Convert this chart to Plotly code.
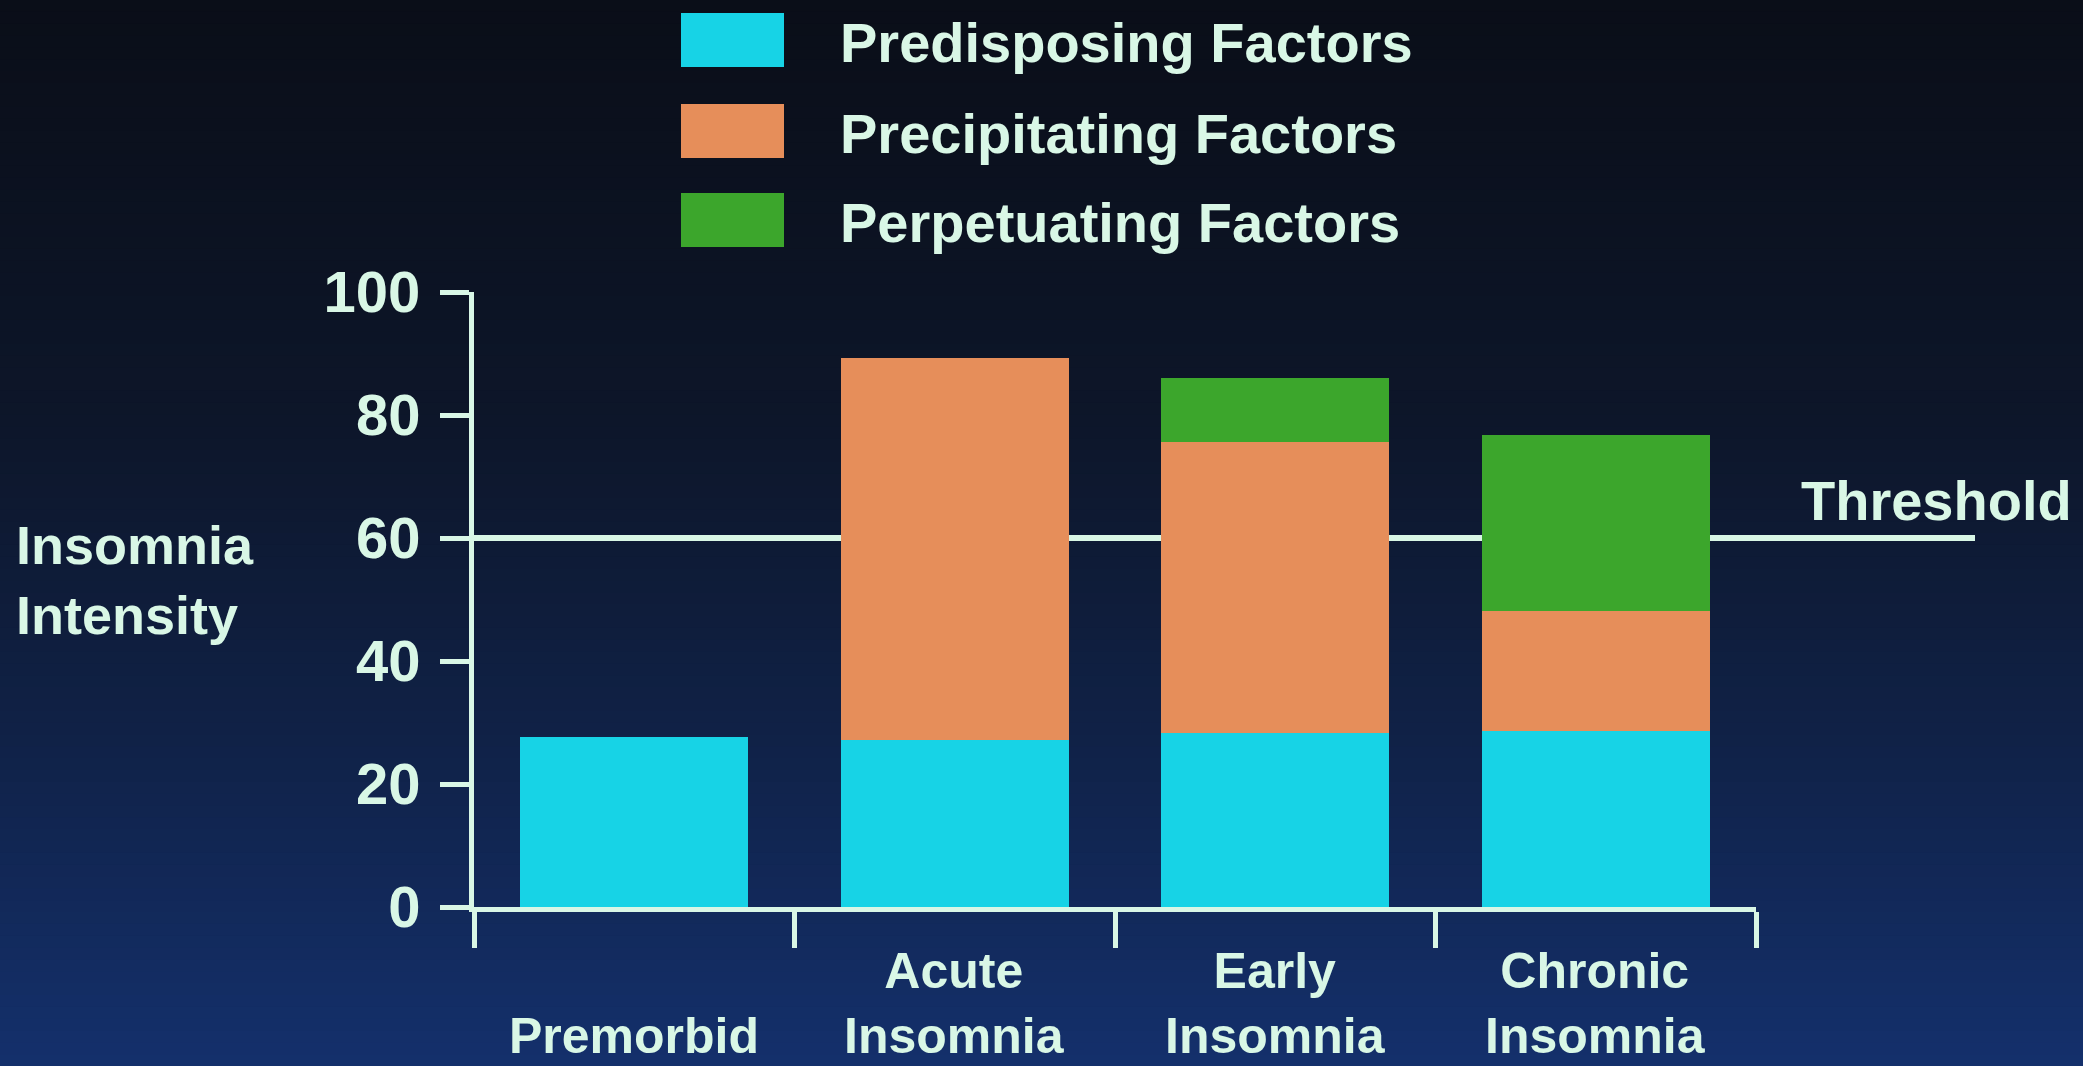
import plotly.graph_objects as go

# ---------------- data ----------------
categories = ["Premorbid", "Acute Insomnia", "Early Insomnia", "Chronic Insomnia"]
predisposing = [27.6, 27.2, 28.3, 28.7]
precipitating = [0.0, 62.0, 47.3, 19.5]
perpetuating = [0.0, 0.0, 10.4, 28.5]
series_names = ["Predisposing Factors", "Precipitating Factors", "Perpetuating Factors"]
threshold = 60
threshold_label = "Threshold"
y_ticks = [0, 20, 40, 60, 80, 100]
y_title_lines = ["Insomnia", "Intensity"]

# ---------------- style ----------------
series_colors = ["#17d3e6", "#e68e5a", "#3ca62c"]
TXT = "#d9f7e6"
FONT = "Liberation Sans"
W, H = 2083, 1066
L, R, T, B = 474, 327, 292, 159
PW, PH = W - L - R, H - T - B


def px(x):
    return (x - L) / PW


def py(y):
    return (H - B - y) / PH


fig = go.Figure()
for name, vals, col in zip(series_names, [predisposing, precipitating, perpetuating], series_colors):
    fig.add_trace(go.Bar(x=categories, y=vals, name=name, marker=dict(color=col, line=dict(width=0)),
                         width=0.71, showlegend=False))

shapes = []
# background gradient
stops = [(0.0, (10, 14, 24)), (0.4, (13, 22, 42)), (0.7, (16, 34, 72)), (1.0, (20, 48, 108))]


def grad(t):
    for (t0, c0), (t1, c1) in zip(stops[:-1], stops[1:]):
        if t0 <= t <= t1:
            f = (t - t0) / (t1 - t0)
            return "rgb(%d,%d,%d)" % tuple(round(a + (b - a) * f) for a, b in zip(c0, c1))
    return "rgb(%d,%d,%d)" % stops[-1][1]


N = 90
for i in range(N):
    y0 = H * i / N
    y1 = H * (i + 1) / N + 1
    shapes.append(dict(type="rect", xref="paper", yref="paper", x0=px(0), x1=px(W),
                       y0=py(y1), y1=py(y0), fillcolor=grad((i + 0.5) / N),
                       line=dict(width=0), layer="below"))

# threshold line
shapes.append(dict(type="line", xref="paper", yref="y", x0=0, x1=px(1975), y0=threshold, y1=threshold,
                   line=dict(color=TXT, width=6), layer="below"))

annotations = []
# legend (custom, large boxes)
row_centers = [40, 131, 220]
for name, col, cy in zip(series_names, series_colors, row_centers):
    shapes.append(dict(type="rect", xref="paper", yref="paper", x0=px(681), x1=px(784),
                       y0=py(cy + 27), y1=py(cy - 27), fillcolor=col, line=dict(width=0)))
    annotations.append(dict(text=name, xref="paper", yref="paper", x=px(838), y=py(cy + 2),
                            xanchor="left", yanchor="middle", showarrow=False,
                            font=dict(family=FONT, size=56, color=TXT, weight="bold")))

# y title
annotations.append(dict(text="<br>".join(y_title_lines), xref="paper", yref="paper", x=px(14), y=py(580),
                        xanchor="left", yanchor="middle", align="left", showarrow=False,
                        font=dict(family=FONT, size=54, color=TXT, weight="bold")))

# threshold label
annotations.append(dict(text=threshold_label, xref="paper", yref="paper", x=px(2074), y=py(500),
                        xanchor="right", yanchor="middle", showarrow=False,
                        font=dict(family=FONT, size=56, color=TXT, weight="bold")))

# category labels (bottom aligned, wrapped at spaces)
for cat in categories:
    annotations.append(dict(text="<br>".join(cat.split(" ")), xref="x", yref="paper", x=cat, y=py(1066),
                            xanchor="center", yanchor="bottom", align="center", showarrow=False,
                            font=dict(family=FONT, size=50, color=TXT, weight="bold")))

fig.update_layout(
    width=W, height=H, autosize=False,
    margin=dict(l=L, r=R, t=T, b=B, pad=0),
    paper_bgcolor="#0b0f1a", plot_bgcolor="rgba(0,0,0,0)",
    barmode="stack", bargap=0.29,
    shapes=shapes, annotations=annotations,
    font=dict(family=FONT, color=TXT),
    xaxis=dict(type="category", range=[-0.5, 3.5], showline=True, linecolor=TXT, linewidth=5,
               ticks="outside", tickson="boundaries", ticklen=36, tickwidth=5, tickcolor=TXT,
               showticklabels=False, showgrid=False, zeroline=False, fixedrange=True),
    yaxis=dict(range=[0, 100], tickvals=y_ticks, showline=True, linecolor=TXT, linewidth=5,
               ticks="outside", ticklen=29, tickwidth=5, tickcolor=TXT,
               tickfont=dict(family=FONT, size=58, color=TXT, weight="bold"),
               ticklabelstandoff=8, showgrid=False, zeroline=False, fixedrange=True),
)

fig.write_html("out.html", config={"displayModeBar": False})
